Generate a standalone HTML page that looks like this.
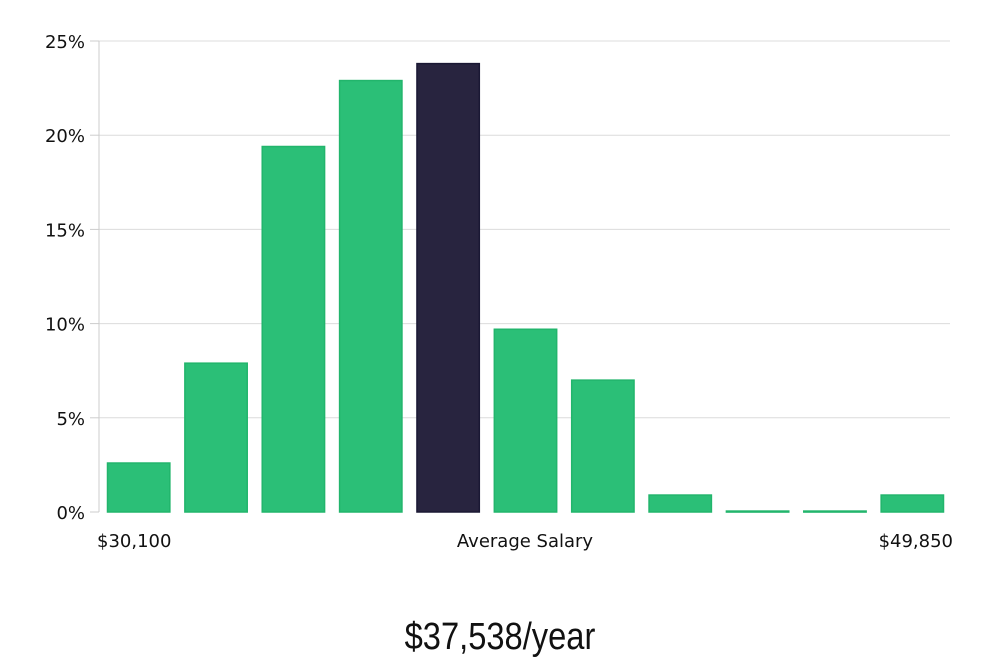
<!DOCTYPE html>
<html><head><meta charset="utf-8"><style>
body{margin:0;background:#fff;width:1000px;height:660px;overflow:hidden}
svg text{font-family:"DejaVu Sans","Liberation Sans",sans-serif}
</style></head><body>
<svg id="chart" width="1000" height="660" xmlns="http://www.w3.org/2000/svg">
<g id="grid"></g>
<g id="yaxis"></g>
<g id="bars"></g>
<text x="97" y="547" font-size="18" fill="#111">$30,100</text>
<text x="525" y="547" font-size="18" fill="#111" text-anchor="middle">Average Salary</text>
<text x="953" y="547" font-size="18" fill="#111" text-anchor="end">$49,850</text>
<text x="500" y="649" font-size="38" fill="#111" text-anchor="middle" transform="translate(500,0) scale(0.86,1) translate(-500,0)" style="font-family:'Liberation Sans',sans-serif">$37,538/year</text>
</svg>
<script>
const categories=["b1","b2","b3","b4","b5","b6","b7","b8","b9","b10","b11"];
const values=[2.6,7.9,19.4,22.9,23.8,9.7,7.0,0.9,0.05,0.05,0.9];
const highlightIndex=4;
const yTicks=[0,5,10,15,20,25];
const yTickLabels=["0%","5%","10%","15%","20%","25%"];
const NS="http://www.w3.org/2000/svg";
const x0=99,x1=950,yTop=41,yBot=512,yMax=25;
const y=v=>yBot-(v/yMax)*(yBot-yTop);
const band=(x1-x0)/categories.length;
function mk(t,a,p){const e=document.createElementNS(NS,t);for(const k in a)e.setAttribute(k,a[k]);p.appendChild(e);return e;}
const grid=document.getElementById('grid'),ya=document.getElementById('yaxis'),bars=document.getElementById('bars');
yTicks.forEach((t,i)=>{
  if(t>0){const g=mk('line',{x1:x0,x2:x1,y1:y(t),y2:y(t),stroke:'#dcdcdc','stroke-width':1},grid);
  
  }
  const tk=mk('line',{x1:90,x2:x0,y1:y(t),y2:y(t),stroke:'#ccc'},ya);
  
  
  const l=mk('text',{x:85,y:y(t)+7,'font-size':18,fill:'#111','text-anchor':'end'},ya);
  l.textContent=yTickLabels[i];
  
  
});
const ax=mk('line',{x1:x0,x2:x0,y1:yTop,y2:yBot,stroke:'#ccc'},ya);


values.forEach((v,i)=>{
  const hl=i===highlightIndex;
  const bx=x0+i*band+8.5,bw=band-15;
  const r=mk('rect',{x:bx,y:y(v),width:bw,height:Math.max(yBot-y(v),1),fill:hl?'#28243f':'#2bbf77',stroke:hl?'#1a1834':'#22b56c','stroke-width':1.5},bars);
  
  
});
</script>
</body></html>
